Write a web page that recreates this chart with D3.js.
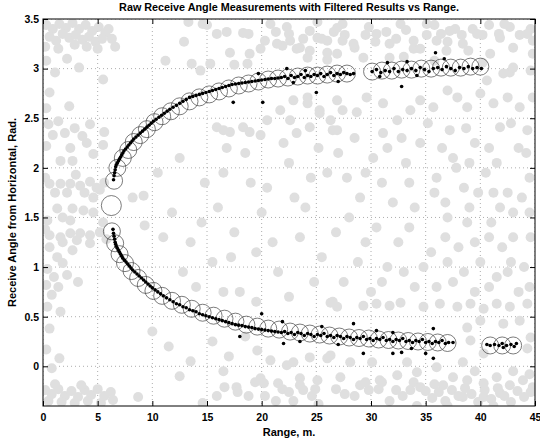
<!DOCTYPE html>
<html><head><meta charset="utf-8">
<script src="https://cdn.jsdelivr.net/npm/d3@7"></script>
<style>body{margin:0;background:#fff}svg{display:block}text{font-family:"Liberation Sans",Arial,sans-serif;font-weight:bold;fill:#000}</style>
</head><body><svg id="c" width="540" height="439"></svg>
<script>
const xTicks=[0,5,10,15,20,25,30,35,40,45];
const yTicks=[0,0.5,1,1.5,2,2.5,3,3.5];
const title="Raw Receive Angle Measurements with Filtered Results vs Range.";
const xLabel="Range, m.";
const yLabel="Receive Angle from Horizontal, Rad.";
// raw measurements (gray)
const grayPts=[[0.3,3.44],[0.9,3.4],[1.5,3.45],[2.1,3.41],[2.7,3.46],[3.3,3.4],[3.9,3.44],[4.5,3.38],[5.1,3.42],[5.7,3.36],[6.3,3.3],[0.6,3.32],[1.2,3.28],[1.8,3.35],[2.4,3.31],[3.0,3.34],[3.6,3.29],[4.2,3.32],[4.8,3.27],[5.4,3.3],[6.0,3.4],[0.2,3.22],[1.4,3.2],[2.9,3.24],[4.0,3.22],[5.0,3.2],[6.6,3.22],
[1.1,2.96],[3.3,3.01],[5.5,2.89],[0.3,3.08],[2.2,3.1],[0.6,2.76],[0.3,2.6],[2.4,2.62],[0.5,2.44],[1.4,2.47],[2.9,2.4],[4.3,2.44],[0.9,2.33],[2.0,2.35],[3.6,2.32],[5.6,2.36],[0.3,2.22],[2.5,2.2],[4.0,2.25],[4.6,2.14],[5.5,2.23],[2.7,2.07],[1.6,2.07],
[0.6,1.84],[1.6,1.84],[2.5,1.84],[3.4,1.82],[4.3,1.86],[4.9,1.8],[5.6,1.85],[2.2,1.75],[1.1,1.75],[3.8,1.75],[0.2,1.9],[3.0,1.93],[5.2,1.78],[4.6,1.7],
[1.3,1.59],[2.7,1.59],[3.7,1.57],[0.4,1.47],[2.5,1.47],[1.8,1.5],[4.6,1.55],[5.5,1.45],
[0.6,1.32],[1.6,1.3],[2.5,1.34],[3.4,1.34],[4.3,1.32],[5.2,1.35],[1.8,1.25],[3.1,1.27],[4.3,1.24],[0.6,1.2],[2.7,1.17],[5.8,1.28],[0.2,1.38],
[1.3,1.1],[1.8,1.04],[0.4,0.98],[1.0,0.9],[2.2,0.92],[0.3,0.82],[1.4,0.8],[0.8,0.72],[0.4,0.6],[1.6,0.55],[0.6,0.38],[0.3,0.17],[1.5,0.08],[0.8,-0.02],[3.2,0.85],
[0.2,-0.24],[0.8,-0.28],[1.4,-0.23],[2.0,-0.3],[2.6,-0.25],[3.2,-0.31],[3.8,-0.24],[4.4,-0.29],[5.0,-0.23],[5.6,-0.3],[6.2,-0.26],[0.5,-0.35],[1.7,-0.36],[2.9,-0.37],[4.1,-0.35],[5.3,-0.37],[6.4,-0.34],[1.1,-0.18],[3.5,-0.19],
[9.3,1.42],[9.2,1.72],[8.2,1.7],[8.7,-0.31],
[12.9,3.27],[13.3,3.47],[15,3.44],[15.9,3.35],[16.8,3.37],[17.5,3.04],[18.8,3.35],[20.3,3.28],[21.3,3.37],[21.9,3.23],[22.5,3.35],[23.2,3.2],[23.8,3.3],[24.4,3.18],[25.1,3.47],[25.5,3.3],[26,3.09],[26.6,3.37],[27.6,3.34],[28.5,3.21],[29.5,3.34],[30.4,3.27],[31.4,3.37],[32.3,3.3],[33.2,3.39],[33.9,3.2],[35.1,3.34],[35.8,3.44],[36.4,3.35],[37,3.27],[37.7,3.4],[38.3,3.34],[39.3,3.4],[40.2,3.34],[40.8,3.44],[41.7,3.35],[42.7,3.42],[43.6,3.34],[44.6,3.4],[44.8,3.28],[42.7,2.96],[40.2,3.06],[35.8,3.08],
[11.2,3.08],[13.6,3.05],[15.3,3.05],[14.4,2.98],[17.1,3.16],[18.9,3.15],[18.7,3.05],[18.3,3.36],[19.9,3.2],[20.8,3.45],[21.4,3.25],[22.3,3.42],[22.6,3.28],[23.5,3.21],[24.2,3.11],[25.1,3.31],[26.0,3.16],[26.9,3.41],[27.4,3.28],[14.6,3.45],
[24.4,3.38],[26,3.28],[27.4,3.45],[28.4,3.25],[29.3,3.11],[30.5,3.35],[31.7,3.25],[32.7,3.45],[33.9,3.28],[35.1,3.45],[36,3.28],[37.2,3.38],[38.4,3.25],[39.7,3.35],[40.9,3.15],[41.8,3.31],[43,3.21],[44.3,3.35],[44.8,3.15],[26.9,3.15],[31.7,3.11],[29.8,3.42],[34.5,3.2],[38.9,3.18],[42.2,3.45],[36.9,3.18],[33.0,3.12],
[15.9,2.41],[16.5,2.38],[17.1,2.36],[18.3,2.41],[18.9,2.36],[19.9,2.33],[20.5,2.48],[21.7,2.58],[22.6,2.48],[23.2,2.35],[24.4,2.41],[25.3,2.58],[26.3,2.48],[26.9,2.38],[27.4,2.58],[24.2,2.65],[22.9,2.68],
[24.2,2.71],[25.3,2.55],[26.9,2.68],[28.7,2.56],[29.6,2.71],[31.1,2.65],[32.4,2.48],[33.6,2.58],[34.5,2.68],[35.7,2.61],[37,2.78],[37.9,2.71],[38.8,2.61],[40,2.75],[41.2,2.65],[42.5,2.71],[43.6,2.61],[44.8,2.71],[40.6,2.88],[42.1,2.95],[43,3.01],[44.6,2.98],[26.5,2.38],[31.1,2.35],[37.2,2.38],[41.8,2.41],[44.3,2.38],
[12.5,2.1],[14.8,1.85],[11.8,1.55],[16.5,1.95],[18.5,2.15],[20.5,1.8],[22.5,2.05],[24.5,1.9],[27,2.15],[29.5,1.95],[31.5,2.2],[33.5,1.85],[13.5,1.25],[15.5,1.05],[17.5,1.35],[19.5,1.15],[21.5,0.95],[23.5,1.3],[25.5,1.1],[27.5,0.85],[29.5,1.25],[31.5,1.0],[33.5,1.4],[35.5,1.15],[14.0,0.8],[18.0,0.75],[22.5,0.7],[26.5,0.65],[30.0,0.75],[34.0,0.8],[20.0,1.55],[24.0,1.6],[28.0,1.5],[32.0,1.65],[16.0,1.6],[26.0,1.95],[36.0,1.9],[34.5,2.25],
[37.5,2.1],[39.5,2.25],[41.5,2.05],[43.5,2.2],[38.5,1.8],[40.5,1.95],[42.5,1.75],[44.5,1.9],[37.0,1.5],[39.0,1.6],[41.0,1.45],[43.0,1.55],[44.6,1.3],[38.0,1.2],[40.0,1.05],[42.0,1.2],[44.0,1.0],[37.5,0.85],[39.5,0.75],[41.5,0.9],[43.5,0.75],
[28.5,2.3],[30.2,2.1],[32.8,2.3],[35.2,2.45],[36.5,2.2],[38.7,2.4],[40.8,2.2],[42.8,2.45],[44.2,2.15],[29.0,1.7],[31.0,1.85],[34.0,1.6],[35.8,1.75],[37.8,2.0],[39.8,1.75],[41.8,1.6],[43.8,1.7],[30.5,1.4],[32.5,1.25],[34.8,1.0],[36.8,1.3],[38.8,1.45],[40.8,1.3],[42.8,1.05],[44.5,1.55],[28.8,1.05],[31.0,0.85],[33.0,0.95],[36.0,0.8],[38.5,0.95],[40.8,0.8],[42.5,0.95],[44.5,0.8],[37.0,1.05],[39.5,1.25],[43.0,1.3],[41.2,1.75],[39.0,2.05],[36.8,1.65],[33.2,2.05],
[10.5,1.95],[11,1.3],[12.8,0.95],[14.5,1.45],[16.8,2.2],[17.2,1.1],[19,1.85],[21,1.25],[22,2.25],[23,1.7],[24.8,0.85],[25.2,2.2],[26.8,1.35],[27.8,1.9],[19.5,0.65],[16.5,0.75],
[29.3,0.61],[30.5,0.63],[31.7,0.61],[32.7,0.64],[34.8,0.6],[36.3,0.63],[37.9,0.6],[39.1,0.63],[40.3,0.58],[41.5,0.63],[42.7,0.6],[44.3,0.63],[26.9,0.6],[26.3,0.64],
[19.6,0.16],[20.8,0.06],[22.3,0.01],[24.4,0.09],[26.3,0.11],[38.4,0.04],[39.1,0.26],[40.3,0.13],[44.3,0.18],[44.6,0.29],[38.8,0.39],[40,0.46],[42.1,0.43],[43.6,0.46],
[19.9,-0.12],[21.5,-0.17],[22.9,0.04],[23.5,-0.12],[25.1,-0.14],[26,0.08],[27.2,-0.11],[28.1,0.04],[29,-0.19],[30.1,0.04],[30.8,-0.14],[32.4,-0.09],[33.3,0.04],[34.2,-0.06],[36,-0.01],[36.6,-0.19],[37.5,-0.11],[38.8,-0.14],[40.3,-0.17],[41.5,-0.11],[42.7,-0.19],[43.9,-0.14],[44.8,-0.21],[38.4,-0.31],[40.3,-0.31],[41.8,-0.27],
[14.6,-0.37],[15.9,-0.3],[16.6,-0.21],[17.7,-0.21],[17.8,-0.26],[18.8,-0.3],[19.4,-0.16],[20.2,-0.17],[20.3,-0.3],[21.3,-0.35],[21.9,-0.23],[22.5,-0.26],[22.9,-0.35],[23.5,-0.19],[23.8,-0.24],[24.6,-0.3],[24.9,-0.23],[25.2,-0.38],[26.8,-0.23],[27.6,-0.28],[28.5,-0.3],[29.5,-0.16],[29.8,-0.24],[30.7,-0.23],[31,-0.16],[31.7,-0.35],[32.3,-0.24],[32.9,-0.3],[33.6,-0.24],[33.9,-0.16],[34.2,-0.4],[34.5,-0.21],
[35.0,-0.25],[35.6,-0.32],[36.2,-0.26],[36.8,-0.35],[37.4,-0.24],[38.0,-0.3],[38.6,-0.22],[39.2,-0.28],[39.8,-0.36],[40.4,-0.24],[41.0,-0.33],[41.6,-0.22],[42.2,-0.3],[42.8,-0.36],[43.4,-0.25],[44.0,-0.31],[44.6,-0.26],[37.0,-0.4],[41.2,-0.4],[35.8,-0.18],[43.0,-0.05],[39.5,-0.05],[44.5,-0.08],
[11.5,0.2],[13.5,0.05],[15.5,0.25],[17,0.1],[12.5,-0.1],[10.0,0.35],[16.5,-0.05],[18.5,0.3]];
// gated measurements (black dots)
const upperRaw=[[6.45,1.88],[6.5,1.92],[6.55,1.95],[6.6,1.98],[6.65,2.01],[6.7,2.03],[6.8,2.05],[6.9,2.07],[7.0,2.09],[7.1,2.11],[7.2,2.13],[7.3,2.15],[7.4,2.17],[7.55,2.19],[7.7,2.21],[7.85,2.23],[8.0,2.25],[8.15,2.27],[8.3,2.29],[8.5,2.31],[8.7,2.33],[8.9,2.35],[9.1,2.37],[9.3,2.39],[9.5,2.41],[9.7,2.43],[9.9,2.45],[10.1,2.47],[10.35,2.49],[10.6,2.51],[10.85,2.53],[11.1,2.55],[11.35,2.57],[11.6,2.59],[11.9,2.61],[12.2,2.63],[12.5,2.65],[12.8,2.67],[13.1,2.69],[13.4,2.71],[13.7,2.72],[14.0,2.73],[14.3,2.74],[14.6,2.75],[14.9,2.76],[15.2,2.77],[15.5,2.78],[15.8,2.79],[16.1,2.8],[16.4,2.81],[16.7,2.82],[17.0,2.83],[17.3,2.84],[17.6,2.845],[17.9,2.85],[18.2,2.855],[18.5,2.86],[18.8,2.865],[19.1,2.87],[19.4,2.875],[19.7,2.88],[20.0,2.885],[20.3,2.89],[20.6,2.895],[20.9,2.9],[21.2,2.9],[21.5,2.905],[21.8,2.91],
[22.1,2.92],[22.4,2.9],[22.7,2.93],[23.0,2.91],[23.3,2.92],[23.6,2.94],[23.9,2.91],[24.2,2.93],[24.5,2.92],[24.8,2.94],[25.1,2.93],[25.4,2.95],[25.7,2.92],[26.0,2.94],[26.3,2.96],[26.6,2.93],[26.9,2.95],[27.2,2.94],[27.5,2.96],[27.8,2.95],[28.1,2.94],[28.4,2.95],
[30.1,2.97],[30.5,2.99],[30.9,2.96],[31.3,2.98],[31.7,2.97],[32.1,3.0],[32.5,2.97],[32.9,2.99],[33.3,2.98],[33.7,3.0],[34.1,2.98],[34.5,3.01],[34.9,2.99],[35.3,2.97],[35.7,3.0],[36.1,3.01],[36.5,2.99],[36.9,3.02],[37.3,3.0],[37.7,2.98],[38.1,3.01],[38.5,3.0],[38.9,3.02],[39.3,3.0],[39.7,3.01],[40.1,3.0],
[17.4,2.66],[19.7,2.95],[20.1,2.66],[22.3,3.0],[25.0,2.76],[31.5,3.06],[32.8,2.82],[33.3,3.07],[35.9,3.16],[36.7,3.1],[24.0,2.98],[27.0,2.87],[30.8,2.92],[34.2,2.93],[22.9,2.86]];
const lowerRaw=[[6.4,1.38],[6.45,1.34],[6.5,1.31],[6.55,1.28],[6.6,1.25],[6.65,1.23],[6.7,1.21],[6.8,1.19],[6.9,1.17],[7.0,1.15],[7.1,1.13],[7.2,1.11],[7.3,1.09],[7.45,1.07],[7.6,1.05],[7.75,1.03],[7.9,1.01],[8.05,0.99],[8.2,0.97],[8.4,0.95],[8.6,0.93],[8.8,0.91],[9.0,0.89],[9.2,0.87],[9.4,0.85],[9.6,0.83],[9.8,0.81],[10.0,0.79],[10.25,0.77],[10.5,0.75],[10.75,0.73],[11.0,0.71],[11.3,0.69],[11.6,0.67],[11.9,0.65],[12.2,0.63],[12.5,0.62],[12.8,0.6],[13.1,0.59],[13.4,0.57],[13.7,0.56],[14.0,0.55],[14.3,0.53],[14.6,0.52],[14.9,0.51],[15.2,0.5],[15.5,0.49],[15.8,0.48],[16.1,0.47],[16.4,0.46],[16.7,0.45],[17.0,0.44],[17.3,0.43],[17.6,0.42],[17.9,0.415],[18.2,0.41],[18.5,0.4],[18.8,0.395],[19.1,0.39],[19.4,0.38],[19.7,0.375],[20.0,0.37],[20.3,0.365],[20.6,0.36],[20.9,0.355],[21.2,0.35],[21.5,0.345],[21.8,0.34],
[22.1,0.35],[22.4,0.33],[22.7,0.34],[23.0,0.32],[23.3,0.34],[23.6,0.33],[23.9,0.31],[24.2,0.33],[24.5,0.32],[24.8,0.3],[25.1,0.32],[25.4,0.31],[25.7,0.33],[26.0,0.3],[26.3,0.31],[26.6,0.29],[26.9,0.31],[27.2,0.3],[27.5,0.28],[27.8,0.3],[28.1,0.29],[28.4,0.27],[28.7,0.29],[29.0,0.28],[29.3,0.3],[29.6,0.27],[29.9,0.28],[30.2,0.26],[30.5,0.28],[30.8,0.27],[31.1,0.29],[31.4,0.26],[31.7,0.27],[32.0,0.25],[32.3,0.27],[32.6,0.26],[32.9,0.28],[33.2,0.25],[33.5,0.26],[33.8,0.24],[34.1,0.26],[34.4,0.25],[34.7,0.27],[35.0,0.24],[35.3,0.25],[35.6,0.23],[35.9,0.25],[36.2,0.24],[36.5,0.26],[36.8,0.23],[37.1,0.24],[37.5,0.24],
[40.6,0.22],[40.9,0.21],[41.3,0.22],[41.7,0.21],[42.0,0.23],[42.1,0.19],[42.4,0.21],[42.8,0.22],[43.1,0.2],[43.3,0.23],
[20.0,0.53],[21.9,0.45],[22.0,0.23],[28.4,0.43],[29.3,0.13],[32.0,0.34],[32.0,0.13],[32.8,0.14],[35.7,0.38],[35.7,0.08],[35.0,0.13],[25.5,0.4],[18.0,0.3],[23.5,0.25],[30.5,0.36],[27.0,0.22],[33.7,0.18]];
// filtered track estimates (open circles)
const upperTrack=[[6.5,1.87],[6.8,2.0],[7.3,2.1],[7.8,2.18],[8.3,2.26],[8.9,2.33],[9.5,2.39],[10.2,2.46],[10.9,2.52],[11.7,2.57],[12.5,2.62],[13.4,2.67],[14.3,2.71],[15.2,2.74],[16.1,2.77],[17.0,2.8],[17.9,2.83],[18.8,2.85],[19.7,2.87],[20.6,2.89],[21.5,2.9],[22.4,2.91],[23.3,2.92],[24.2,2.93],[25.1,2.93],[26.0,2.94],[26.9,2.95],[27.8,2.95],
[30.1,2.97],[31.0,2.98],[31.9,2.98],[32.8,2.99],[33.7,2.99],[34.6,3.0],[35.5,3.0],[36.4,3.01],[37.3,3.01],[38.2,3.01],[39.1,3.02],[40.0,3.02]];
const lowerTrack=[[6.3,1.36],[6.6,1.24],[7.0,1.13],[7.5,1.04],[8.1,0.96],[8.7,0.89],[9.4,0.82],[10.1,0.76],[10.9,0.71],[11.8,0.66],[12.7,0.62],[13.6,0.58],[14.6,0.54],[15.6,0.51],[16.6,0.48],[17.6,0.45],[18.6,0.42],[19.6,0.4],[20.6,0.38],[21.6,0.37],[22.6,0.35],[23.5,0.34],[24.4,0.33],[25.3,0.32],[26.2,0.31],[27.1,0.3],[28.0,0.29],[28.9,0.285],[29.8,0.28],[30.7,0.27],[31.6,0.265],[32.5,0.26],[33.4,0.255],[34.3,0.25],[35.2,0.245],[36.1,0.24],[37.0,0.235],
[40.9,0.21],[42.0,0.21],[43.0,0.21]];
const midTrack=[[6.25,1.62]];

const W=540,H=439,m={l:43,r:5,t:19,b:33};
const svg=d3.select("#c");
const x=d3.scaleLinear().domain([0,45]).range([m.l,W-m.r]);
const y=d3.scaleLinear().domain([-0.4,3.5]).range([H-m.b,m.t]);
svg.append("clipPath").attr("id","cp").append("rect").attr("x",m.l).attr("y",m.t).attr("width",W-m.l-m.r).attr("height",H-m.t-m.b);
const g=svg.append("g").attr("clip-path","url(#cp)");
g.selectAll(".gx").data(xTicks).join("line").attr("x1",d=>x(d)).attr("x2",d=>x(d)).attr("y1",m.t).attr("y2",H-m.b).attr("stroke","#999").attr("stroke-width",0.8).attr("stroke-dasharray","1,3");
g.selectAll(".gy").data(yTicks).join("line").attr("y1",d=>y(d)).attr("y2",d=>y(d)).attr("x1",m.l).attr("x2",W-m.r).attr("stroke","#999").attr("stroke-width",0.8).attr("stroke-dasharray","1,3");
g.append("g").selectAll("circle").data(grayPts).join("circle").attr("cx",d=>x(d[0])).attr("cy",d=>y(d[1])).attr("r",5).attr("fill","#dfdfdf");
g.append("g").selectAll("circle").data(upperTrack.concat(lowerTrack)).join("circle").attr("cx",d=>x(d[0])).attr("cy",d=>y(d[1])).attr("r",8.5).attr("fill","none").attr("stroke","#444").attr("stroke-width",0.7);
g.append("g").selectAll("circle").data(midTrack).join("circle").attr("cx",d=>x(d[0])).attr("cy",d=>y(d[1])).attr("r",10).attr("fill","none").attr("stroke","#444").attr("stroke-width",0.7);
g.append("g").selectAll("circle").data(upperRaw.concat(lowerRaw)).join("circle").attr("cx",d=>x(d[0])).attr("cy",d=>y(d[1])).attr("r",1.8).attr("fill","#000");
const fs="10.5px";
const xa=svg.append("g").attr("transform",`translate(0,${H-m.b})`).call(d3.axisBottom(x).tickValues(xTicks).tickSizeInner(-5).tickSizeOuter(0).tickPadding(8));
const xt=svg.append("g").attr("transform",`translate(0,${m.t})`).call(d3.axisTop(x).tickValues(xTicks).tickSizeInner(-5).tickSizeOuter(0).tickFormat(""));
const ya=svg.append("g").attr("transform",`translate(${m.l},0)`).call(d3.axisLeft(y).tickValues(yTicks).tickSizeInner(-5).tickSizeOuter(0).tickPadding(4).tickFormat(d3.format("")));
const yr=svg.append("g").attr("transform",`translate(${W-m.r},0)`).call(d3.axisRight(y).tickValues(yTicks).tickSizeInner(-5).tickSizeOuter(0).tickFormat(""));
[xa,xt,ya,yr].forEach(a=>{a.select(".domain").remove();a.selectAll("line").attr("stroke","#000");a.selectAll("text").style("font-size",fs).style("font-family","Liberation Sans, Arial, sans-serif").style("font-weight","bold");});
svg.append("rect").attr("x",m.l).attr("y",m.t).attr("width",W-m.l-m.r).attr("height",H-m.t-m.b).attr("fill","none").attr("stroke","#000").attr("stroke-width",1);
svg.append("text").attr("x",(m.l+W-m.r)/2).attr("y",11).attr("text-anchor","middle").style("font-size","10.8px").text(title);
svg.append("text").attr("x",(m.l+W-m.r)/2).attr("y",436).attr("text-anchor","middle").style("font-size","11px").text(xLabel);
svg.append("text").attr("transform",`translate(16,${(m.t+H-m.b)/2}) rotate(-90)`).attr("text-anchor","middle").style("font-size","11px").text(yLabel);
</script></body></html>
